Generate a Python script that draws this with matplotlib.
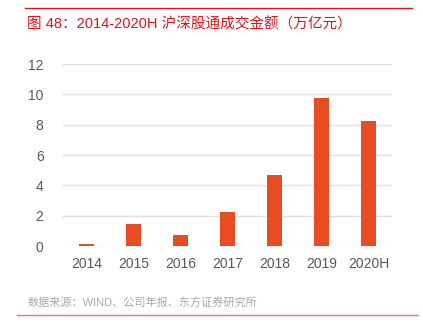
import matplotlib.pyplot as plt
import numpy as np

plt.rcParams['font.family'] = ['Liberation Sans', 'Noto Sans CJK SC', 'DejaVu Sans']

# 沪深股通成交金额（万亿元）
years = ['2014', '2015', '2016', '2017', '2018', '2019', '2020H']
turnover = [0.13, 1.45, 0.73, 2.25, 4.67, 9.78, 8.26]

fig = plt.figure(figsize=(4.23, 3.30), dpi=100)
ax = fig.add_axes([0.149, 0.2545, 0.778, 0.5515])

x = np.arange(len(years))
ax.bar(x, turnover, width=0.32, color='#e84c22', zorder=3)
ax.set_xlim(-0.5, len(years) - 0.5)
ax.set_ylim(0, 12)
ax.set_yticks(range(0, 13, 2))
ax.set_xticks(x)
ax.set_xticklabels(years)
ax.grid(axis='y', color='#e0e0e0', linewidth=1, zorder=0)
for s in ax.spines.values():
    s.set_visible(False)
ax.tick_params(length=0, labelsize=10, colors='#595959', pad=8)
ax.tick_params(axis='y', pad=14)

# 标题与来源
fig.add_artist(plt.Line2D([25/423, 412/423], [1 - 7.5/330, 1 - 7.5/330], color='#d9161c', lw=1))
fig.text(27/423, 1 - 24/330, '图 48：2014-2020H 沪深股通成交金额（万亿元）',
         color='#d9161c', fontsize=10.5, va='center', ha='left')
fig.text(28/423, 1 - 303/330, '数据来源：WIND、公司年报、东方证券研究所',
         color='#aaaaaa', fontsize=8, va='center', ha='left')
fig.add_artist(plt.Line2D([17/423, 418/423], [1 - 315/330, 1 - 315/330], color='#e57373', lw=1))

fig.savefig('out.png', dpi=100)
